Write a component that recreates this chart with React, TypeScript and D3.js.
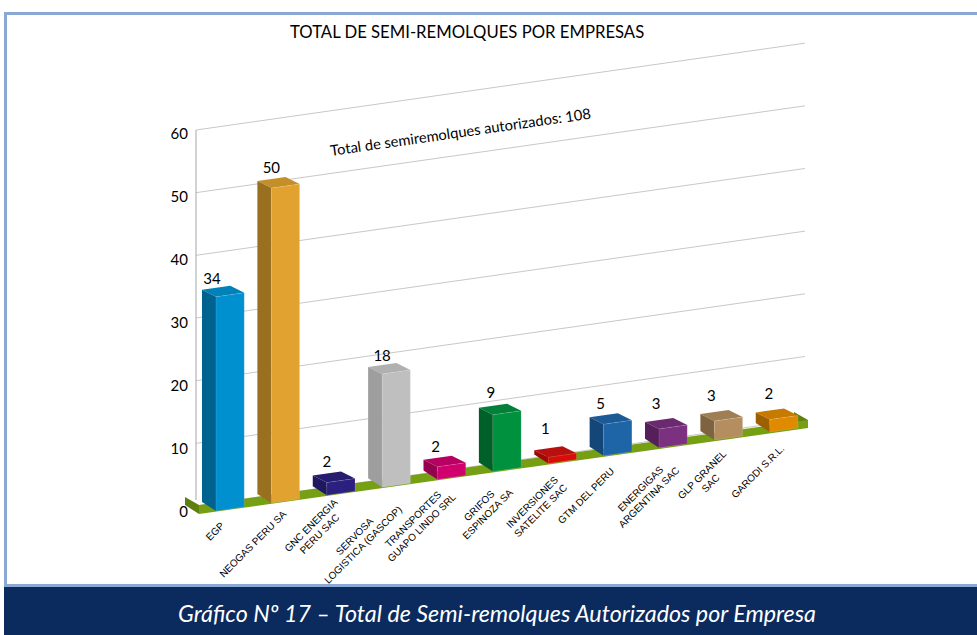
import React from 'react';
import { scaleBand, scaleLinear } from 'd3';

const width = 977;
const height = 635;

// categories, split in the lines the chart shows them on
const labels = [
  ['EGP'],
  ['NEOGAS PERU SA'],
  ['GNC ENERGIA', 'PERU SAC'],
  ['SERVOSA', 'LOGISTICA (GASCOP)'],
  ['TRANSPORTES', 'GUAPO LINDO SRL'],
  ['GRIFOS', 'ESPINOZA SA'],
  ['INVERSIONES', 'SATELITE SAC'],
  ['GTM DEL PERU'],
  ['ENERGIGAS', 'ARGENTINA SAC'],
  ['GLP GRANEL', 'SAC'],
  ['GARODI S.R.L.'],
];
const values = [34, 50, 2, 18, 2, 9, 1, 5, 3, 3, 2];
const frontColors = ['#0090d0', '#e1a22f', '#2b2080', '#bfbfbf', '#d0006f', '#00913f', '#dc0a0a', '#1e65a8', '#7b3080', '#b48e5f', '#e08a00'];
const sideColors = ['#00638f', '#99701f', '#1f1760', '#9e9e9e', '#95004f', '#00602a', '#a00808', '#154678', '#55205a', '#7e6340', '#9c6000'];
const topColors = ['#0082b8', '#c48f28', '#261c70', '#b0b0b0', '#b80062', '#008038', '#b80f0f', '#1b5a95', '#6b2a70', '#a07e54', '#c67a00'];
const ticks = [0, 10, 20, 30, 40, 50, 60];

const title = 'TOTAL DE SEMI-REMOLQUES POR EMPRESAS';
const note = 'Total de semiremolques autorizados: 108';
const caption = 'Gráfico Nº 17 – Total de Semi-remolques Autorizados por Empresa';

const sans = 'Lato, sans-serif';
const names = labels.map((l) => l.join(' '));

// front face x of every bar
const x = scaleBand().domain(names).range([216, 798]).paddingInner(0.49);
// the floor climbs to the right, so base y depends on x
const base = scaleLinear().domain([216, 798]).range([511, 428]);
// wall value scale at the left end of the wall
const y = scaleLinear().domain([0, 60]).range([506, 130]);
// tick text baselines are spaced a little wider than the wall lines
const tickY = scaleLinear().domain([0, 60]).range([517, 139]);
// bars stand a bit nearer than the wall, so they grow slightly faster
const barHeight = scaleLinear().domain([0, 60]).range([0, 378]);

const depthX = -14;
const depthTop = -7;
const depthBottom = -9;
const wallLeft = 196;
const wallRight = 805;
const wallRise = base(wallLeft) - base(wallRight);

// the labels do not sit evenly under the bars in the original
const labelNudge = [[-13, 4], [-4, -2], [0, 3], [5, 5], [1, 3], [2, 7], [2, 9], [-8, 2], [2, 9], [1, 10], [0, -1]];
const valueShiftX = [-4, 0, 0, 0, -2, -2, -3, -3, -3, -3, -1];
const valueRise = [13, 15, 16, 13, 15, 17, 23, 15, 20, 20, 20];

const pts = (p: number[][]) => p.map((d) => d.join(',')).join(' ');

const App = () => {
  const bw = x.bandwidth();
  return (
    <svg width={width} height={height} style={{ position: 'absolute', left: 0, top: 0 }}>
      <rect x={5.5} y={13.5} width={width} height={572} fill="#fff" stroke="#8aa8d4" strokeWidth={3} />
      <rect x={4} y={587} width={width} height={48} fill="#0b2a5e" />

      {/* wall */}
      {ticks.map((t) => (
        <line key={t} x1={wallLeft} y1={y(t)} x2={wallRight} y2={y(t) - wallRise} stroke="#c8c8c8" />
      ))}
      <line x1={wallLeft} y1={y(60)} x2={wallLeft} y2={500} stroke="#a6a6a6" />
      {ticks.map((t) => (
        <text key={t} x={188} y={tickY(t)} textAnchor="end" fontFamily={sans} fontSize={15}>
          {t}
        </text>
      ))}

      {/* floor */}
      <polygon points={pts([[185, 497], [199, 505], [199, 514], [185, 505]])} fill="#5f8010" />
      <polygon points={pts([[794, 412], [808, 420], [808, 428], [794, 420]])} fill="#5f8010" />
      <polygon points={pts([[199, 505], [808, 420], [808, 428], [199, 514]])} fill="#769f14" />

      {/* bars */}
      {names.map((name, i) => {
        const x0 = x(name) as number;
        const x1 = x0 + bw;
        const b0 = base(x0);
        const b1 = base(x1);
        const h = barHeight(values[i]);
        return (
          <g key={name}>
            <polygon
              points={pts([[x0, b0 - h], [x1, b1 - h], [x1 + depthX, b1 - h + depthTop], [x0 + depthX, b0 - h + depthTop]])}
              fill={topColors[i]}
            />
            <polygon
              points={pts([[x0, b0], [x0, b0 - h], [x0 + depthX, b0 - h + depthTop], [x0 + depthX, b0 + depthBottom]])}
              fill={sideColors[i]}
            />
            <polygon
              points={pts([[x0, b0], [x1, b1], [x1, b1 - h], [x0, b0 - h]])}
              fill={frontColors[i]}
              stroke="#fff"
              strokeOpacity={0.2}
              strokeWidth={0.6}
            />
            <text x={x0 + valueShiftX[i]} y={b0 - h - valueRise[i]} textAnchor="middle" fontFamily={sans} fontSize={15}>
              {values[i]}
            </text>
          </g>
        );
      })}

      {/* category labels, centred lines, turned 45 degrees */}
      {names.map((name, i) => {
        const x0 = x(name) as number;
        const lines = labels[i];
        const longest = Math.max(...lines.map((l) => l.length));
        const [nx, ny] = labelNudge[i];
        return (
          <g key={name} transform={`translate(${x0 + 16 + nx},${base(x0) + 6 + ny}) rotate(-45)`}>
            {lines.map((line, j) => (
              <text
                key={line}
                x={-longest * 3.4}
                y={(j - (lines.length - 1)) * 12 + 8}
                textAnchor="middle"
                fontFamily="'Liberation Sans', Arial, sans-serif"
                fontSize={10}
              >
                {line}
              </text>
            ))}
          </g>
        );
      })}

      <text x={290} y={38} fontFamily={sans} fontSize={16.7}>
        {title}
      </text>
      <text transform="translate(331,156) rotate(-8.2)" fontFamily={sans} fontSize={14.7}>
        {note}
      </text>
      <text x={497} y={622} textAnchor="middle" fill="#fff" fontStyle="italic" fontFamily={sans} fontSize={23.3}>
        {caption}
      </text>
    </svg>
  );
};

export default App;
